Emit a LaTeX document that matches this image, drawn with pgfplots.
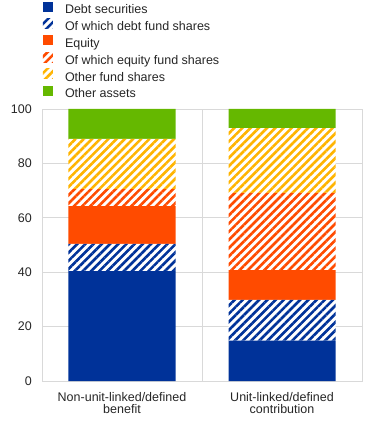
\documentclass[border=0pt]{standalone}
\usepackage{fontspec}
\setmainfont{Liberation Sans}
\usepackage{pgfplots}
\pgfplotsset{compat=1.18}
\usetikzlibrary{patterns.meta}

\definecolor{ecbblue}{HTML}{003299}
\definecolor{ecborange}{HTML}{FF4B00}
\definecolor{ecbyellow}{HTML}{FFB400}
\definecolor{ecbgreen}{HTML}{65B800}
\definecolor{gridgrey}{HTML}{D9D9D9}
\definecolor{labelgrey}{HTML}{262626}

% diagonal hatching on a white ground
\tikzset{
  hatched/.style={fill=white, postaction={pattern={Lines[angle=45,distance=5.8pt,line width=2.6pt]}, pattern color=#1}}
}

\newcommand{\chartfont}{\fontsize{12.5}{12}\selectfont}

\begin{document}
\begin{tikzpicture}
\begin{axis}[
  at={(0pt,0pt)}, anchor=south west,
  scale only axis, width=320pt, height=272pt,
  ybar stacked, bar width=107pt,
  xmin=-0.5, xmax=1.5, ymin=0, ymax=100,
  xtick={0,1},
  xticklabels={{Non-unit-linked/defined\\benefit},{Unit-linked/defined\\contribution}},
  extra x ticks={0.5}, extra x tick labels={},
  extra x tick style={grid=major},
  ytick={0,20,...,100},
  ymajorgrids,
  grid style={gridgrey, line width=0.8pt},
  axis line style={gridgrey, line width=0.8pt},
  major tick length=0pt,
  tick label style={font=\chartfont, text=labelgrey},
  /pgf/number format/assume math mode=true,
  xticklabel style={align=center, inner sep=0pt, yshift=-11pt},
  yticklabel style={inner sep=0pt, xshift=-10pt},
  legend style={at={(axis description cs:0,1)}, anchor=south west,
    xshift=1pt, yshift=8.3pt,
    draw=none, fill=none, inner sep=0pt, outer sep=0pt,
    font=\chartfont, text=labelgrey, row sep=2pt,
    nodes={inner sep=0pt, text height=9pt, text depth=2.7pt},
    /tikz/every odd column/.append style={column sep=12pt}},
  legend cell align=left,
  legend image code/.code={\path[#1, draw=none] (0pt,-1pt) rectangle (10pt,9pt);},
]
\addplot[fill=ecbblue, draw=none] coordinates {(0,40.4) (1,14.8)};
\addplot[hatched=ecbblue, draw=none] coordinates {(0,10.0) (1,15.0)};
\addplot[fill=ecborange, draw=none] coordinates {(0,13.9) (1,11.0)};
\addplot[hatched=ecborange, draw=none] coordinates {(0,6.2) (1,28.4)};
\addplot[hatched=ecbyellow, draw=none] coordinates {(0,18.5) (1,23.8)};
\addplot[fill=ecbgreen, draw=none] coordinates {(0,11.0) (1,7.0)};
\legend{Debt securities, Of which debt fund shares, Equity, Of which equity fund shares, Other fund shares, Other assets}
\end{axis}
\pgfresetboundingbox
\path[use as bounding box] (-42pt,-55pt) rectangle (330pt,381pt);
\end{tikzpicture}
\end{document}
